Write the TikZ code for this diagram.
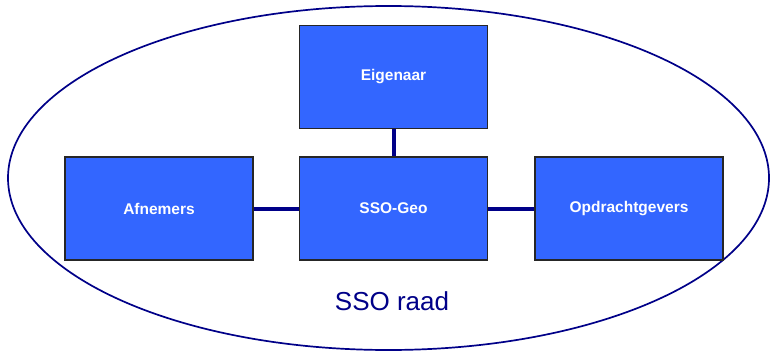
\documentclass[tikz,border=0pt]{standalone}
\usepackage{fontspec}
\setmainfont{Liberation Sans}
\definecolor{boxblue}{HTML}{3366FF}
\definecolor{navy}{HTML}{000088}
\begin{document}
\begin{tikzpicture}[x=1pt,y=-1pt]
    \tikzstyle{bx} = [rectangle,draw=black!85,line width=1.3pt,fill=boxblue,
      minimum width=188pt,minimum height=103pt,inner sep=0pt,
      text=white,font=\fontsize{15.5}{18}\selectfont\bfseries] %box
    \tikzstyle{ln} = [-,draw=navy,line width=4pt] %link
    \useasboundingbox (0,0) rectangle (770,353);
    \draw[navy,line width=1.7pt](388.5,178) ellipse (380.5 and 172);
    \node[bx](eig)at(393.5,77){Eigenaar};
    \node[bx](geo)at(393.5,208.5){SSO-Geo};
    \node[bx](afn)at(159,208.5){Afnemers};
    \node[bx](opd)at(629,208.5){Opdrachtgevers};
    \node[text=navy,font=\fontsize{26}{30}\selectfont](raad)at(392,301){SSO raad};
    \draw[ln](eig)--(geo);
    \draw[ln](afn)--(geo);
    \draw[ln](geo)--(opd);
  \end{tikzpicture}
\end{document}
